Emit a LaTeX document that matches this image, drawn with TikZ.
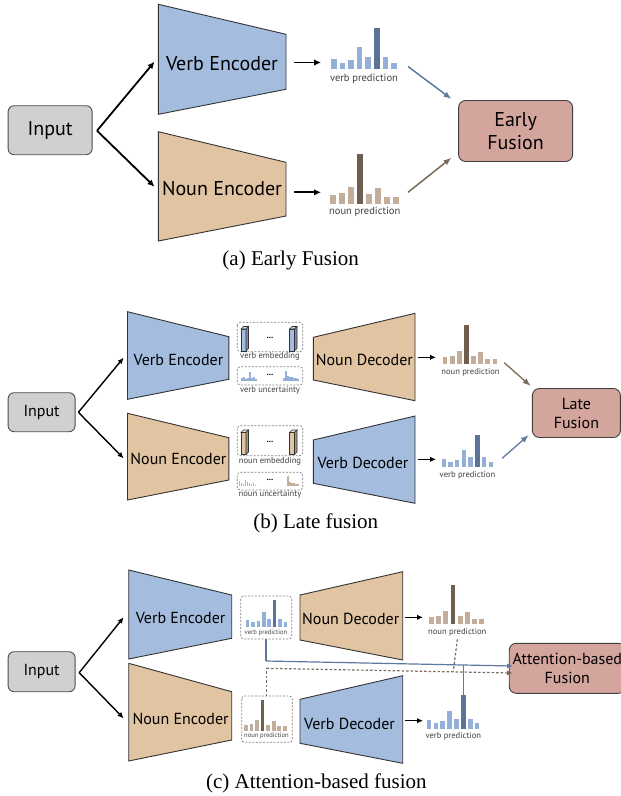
\documentclass[tikz,border=0pt]{standalone}
\usepackage{fontspec}
\setmainfont{Liberation Serif}
\newfontfamily\labelfont{PT Sans}
\usetikzlibrary{arrows.meta,positioning}

\definecolor{encblue}{HTML}{A4BDDF}
\definecolor{enctan}{HTML}{E1C4A1}
\definecolor{inputgray}{HTML}{D0D0D0}
\definecolor{fusionrose}{HTML}{D3A59C}
\definecolor{vbar}{HTML}{94B0D9}
\definecolor{vbardark}{HTML}{5C7398}
\definecolor{nbar}{HTML}{C2AE9A}
\definecolor{nbardark}{HTML}{6E5F4E}
\definecolor{varrow}{HTML}{5E78A0}
\definecolor{narrow}{HTML}{7A6A5A}

% bar heights / colours of the prediction histograms
\newcommand{\verbbars}{10.3/vbar,6.7/vbar,9.3/vbar,22.7/vbar,12.7/vbar,41.7/vbardark,12.7/vbar,6.7/vbar}
\newcommand{\nounbars}{9/nbar,11/nbar,17/nbar,49.7/nbardark,10/nbar,15.7/nbar,7/nbar,7/nbar}

\newcommand{\predbars}[4]{%
  \begin{scope}[shift={#1}, scale=#2]
    \foreach \h/\c [count=\i] in #3
      \fill[\c] ({(\i-1)*#4},0) rectangle ++({0.66*#4},-\h);
  \end{scope}}

\newcommand{\unchist}[3]{%
  \begin{scope}[shift={#1}]
    \foreach \h [count=\i] in {#3}
      \fill[#2] ({(\i-1)*2},0) rectangle ++(1.8,-\h);
  \end{scope}}

\newcommand{\cuboid}[2]{%
  \begin{scope}[shift={#1}]
    \draw[fill=#2, line width=0.6pt, draw=black!80] (0,0) rectangle (5,22);
    \draw[fill=#2!60!white, line width=0.6pt, draw=black!80] (0,0) -- (2.5,-2.5) -- (7.5,-2.5) -- (5,0) -- cycle;
    \draw[fill=#2!75!black, line width=0.6pt, draw=black!80] (5,0) -- (7.5,-2.5) -- (7.5,19.5) -- (5,22) -- cycle;
  \end{scope}}

\newcommand{\trap}[7]{%
  \draw[trapline, fill=#7] (#1,#2) -- (#4,#5) -- (#4,#6) -- (#1,#3) -- cycle;}

\begin{document}
\begin{tikzpicture}[x=1pt, y=-1pt,
    inbox/.style={draw=black!70, fill=inputgray, rounded corners=6pt, line width=0.9pt},
    fusebox/.style={draw=black!75, fill=fusionrose, rounded corners=7pt, line width=0.9pt, align=center},
    trapline/.style={draw=black!80, line width=0.9pt},
    dbox/.style={draw=black!50, dash pattern=on 2pt off 1.5pt, rounded corners=3pt, line width=0.7pt},
    bigtext/.style={font=\labelfont\fontsize{20}{23}\selectfont, align=center},
    midtext/.style={font=\labelfont\fontsize{16}{19}\selectfont, align=center},
    predbig/.style={font=\labelfont\fontsize{10.5}{12}\selectfont, text=black!75},
    predmid/.style={font=\labelfont\fontsize{8.6}{10}\selectfont, text=black!75},
    predsmall/.style={font=\labelfont\fontsize{6.6}{8}\selectfont, text=black!75},
    dots/.style={font=\labelfont\bfseries\fontsize{9}{10}\selectfont, inner sep=0pt},
    caption/.style={font=\fontsize{21}{24}\selectfont},
    arrow/.style={-{Latex[length=7pt,width=6.5pt]}, line width=1.8pt},
    arrowthin/.style={-{Latex[length=6pt,width=5.5pt]}, line width=1.4pt},
    varr/.style={-{Latex[length=8pt,width=6pt]}, line width=1.5pt, draw=varrow},
    narr/.style={-{Latex[length=8pt,width=6pt]}, line width=1.5pt, draw=narrow},
    vline/.style={line width=1.2pt, draw=varrow},
    nline/.style={line width=1.2pt, draw=narrow, dash pattern=on 2.5pt off 2pt}
  ]
  \useasboundingbox (0,0) rectangle (621,796);

  % (a) early fusion
  \node[inbox, minimum width=84pt, minimum height=49pt, bigtext] (ina) at (50.1,130.2) {Input};
  \trap{158.4}{4.3}{114.3}{286}{34.3}{89.3}{encblue}
  \trap{158.4}{131.7}{241}{286}{162.3}{216}{enctan}
  \node[bigtext] (venca) at (222,63.3) {Verb Encoder};
  \node[bigtext] (nenca) at (222,189) {Noun Encoder};
  \coordinate (splita) at (97,130.7);
  \coordinate (vencain) at (154.5,61.7);
  \coordinate (nencain) at (154.5,186.7);
  \draw[arrow] (splita) -- (vencain);
  \draw[arrow] (splita) -- (nencain);

  \predbars{(331,69.3)}{1}{\verbbars}{8.6}
  \predbars{(330,203.7)}{1}{\nounbars}{9}
  \node[predbig] (vpreda) at (364,79) {verb prediction};
  \node[predbig] (npreda) at (364.7,212.3) {noun prediction};
  \coordinate (vencaout) at (294,62.5);
  \coordinate (vbarsain) at (321,62.5);
  \coordinate (nencaout) at (294,192.3);
  \coordinate (nbarsain) at (321,192.3);
  \draw[arrow] (vencaout) -- (vbarsain);
  \draw[arrow] (nencaout) -- (nbarsain);

  \node[fusebox, minimum width=114pt, minimum height=61pt, bigtext] (fusea) at (515.6,131) {Early\\Fusion};
  \coordinate (vpredaout) at (408,66.5);
  \coordinate (npredaout) at (408,192.3);
  \draw[varr] (vpredaout) -- (451.5,99);
  \draw[narr] (npredaout) -- (451.5,157.7);
  \node[caption] (capa) at (290.7,260) {(a) Early Fusion};

  % (b) late fusion
  \node[inbox, minimum width=67pt, minimum height=39pt, midtext] (inb) at (41.6,412.2) {Input};
  \trap{127.5}{311.7}{399.3}{228.9}{336.7}{379.3}{encblue}
  \trap{127.5}{413.3}{500}{228.9}{437.7}{480}{enctan}
  \node[midtext] (vencb) at (178.4,360) {Verb Encoder};
  \node[midtext] (nencb) at (178.4,459) {Noun Encoder};
  \coordinate (splitb) at (78.4,412.3);
  \draw[arrowthin] (splitb) -- (123.6,357.7);
  \draw[arrowthin] (splitb) -- (123.6,458.3);

  \draw[dbox] (237.3,322.3) rectangle (302.7,351.7);
  \draw[dbox] (237.3,366.7) rectangle (302.7,385);
  \draw[dbox] (237.3,425.7) rectangle (302.7,455.7);
  \draw[dbox] (237.3,472.3) rectangle (302.7,490);
  \cuboid{(241,329)}{encblue}
  \cuboid{(289.5,329)}{encblue}
  \cuboid{(241,432.5)}{enctan}
  \cuboid{(289.5,432.5)}{enctan}
  \node[dots] (vembdots) at (270,338) {...};
  \node[dots] (vuncdots) at (270,374.5) {...};
  \node[dots] (nembdots) at (270,442) {...};
  \node[dots] (nuncdots) at (270,479.5) {...};
  \unchist{(241,381)}{vbar}{3,4.5,2,3.5,9.5,3,4,2.5}
  \unchist{(283.3,381)}{vbar}{3,10,5,4.5,4,3,3,2.5}
  \unchist{(238.5,486.3)}{nbar}{5,3,2,6,4,3,2,3,1.5}
  \unchist{(287,486.3)}{nbar}{10,4,3,3,2,2}
  \node[predmid] (vembb) at (270,356.7) {verb embedding};
  \node[predmid] (vuncb) at (270,390.7) {verb uncertainty};
  \node[predmid] (nembb) at (270,461) {noun embedding};
  \node[predmid] (nuncb) at (270,494.8) {noun uncertainty};

  \trap{313.3}{337.3}{380}{415}{313.3}{400.7}{enctan}
  \trap{313.3}{440}{483.3}{415}{416}{503.3}{encblue}
  \node[midtext] (ndecb) at (364.3,360) {Noun Decoder};
  \node[midtext] (vdecb) at (363,463.3) {Verb Decoder};
  \coordinate (ndecbout) at (417.8,357.3);
  \coordinate (nbarsbin) at (436,357.3);
  \coordinate (vdecbout) at (417.8,459.3);
  \coordinate (vbarsbin) at (436,459.3);
  \draw[arrowthin] (ndecbout) -- (nbarsbin);
  \draw[arrowthin] (vdecbout) -- (vbarsbin);

  \predbars{(442.8,364.3)}{0.79}{\nounbars}{9}
  \predbars{(441.6,467.3)}{0.78}{\verbbars}{8.6}
  \node[predmid] (npredb) at (470.5,372.7) {noun prediction};
  \node[predmid] (vpredb) at (467.5,475.3) {verb prediction};

  \node[fusebox, minimum width=88pt, minimum height=49pt, midtext] (fuseb) at (576.4,413) {Late\\Fusion};
  \draw[narr, line width=1.3pt] (504.2,362.7) -- (530.7,386);
  \draw[varr, line width=1.3pt] (502.2,458.3) -- (528.7,435);
  \node[caption] (capb) at (315.8,523.3) {(b) Late fusion};

  % (c) attention-based fusion
  \node[inbox, minimum width=67pt, minimum height=40pt, midtext] (inc) at (41.6,671.7) {Input};
  \trap{128.7}{570}{659}{231.7}{595}{638.3}{encblue}
  \trap{128.7}{663.3}{761}{231.7}{691.7}{740}{enctan}
  \node[midtext] (vencc) at (180.6,618.3) {Verb Encoder};
  \node[midtext] (nencc) at (180.6,719.3) {Noun Encoder};
  \coordinate (splitc) at (79.2,672.7);
  \draw[arrowthin] (splitc) -- (123.6,617.3);
  \draw[arrowthin] (splitc) -- (123.6,718.3);

  \draw[dbox] (240.7,596) rectangle (291.7,639);
  \draw[dbox] (241.7,696) rectangle (292.3,742.3);
  \predbars{(245.7,626.7)}{0.63}{\verbbars}{8.6}
  \predbars{(244,730.7)}{0.62}{\nounbars}{9}
  \node[predsmall] (vpredcbox) at (266,632.7) {verb prediction};
  \node[predsmall] (npredcbox) at (266.5,736) {noun prediction};

  \trap{300}{595}{640}{402.7}{571.7}{660}{enctan}
  \trap{300}{699.3}{743.3}{402.7}{675.7}{763.3}{encblue}
  \node[midtext] (ndecc) at (350.7,619.3) {Noun Decoder};
  \node[midtext] (vdecc) at (349.5,724) {Verb Decoder};
  \coordinate (ndeccout) at (404.5,617.3);
  \coordinate (nbarscin) at (423,617.3);
  \coordinate (vdeccout) at (404.5,720.7);
  \coordinate (vbarscin) at (423,720.7);
  \draw[arrowthin] (ndeccout) -- (nbarscin);
  \draw[arrowthin] (vdeccout) -- (vbarscin);

  \predbars{(429,624.3)}{0.8}{\nounbars}{9}
  \predbars{(426.7,728.7)}{0.8}{\verbbars}{8.6}
  \node[predmid] (npredc) at (457.3,632) {noun prediction};
  \node[predmid] (vpredc) at (453.3,736) {verb prediction};

  \node[fusebox, minimum width=106pt, minimum height=50pt, midtext] (fusec) at (567.3,668.3) {Attention-based\\Fusion};
  \coordinate (vboxcout) at (266,639);
  \coordinate (nboxcout) at (266.7,696);
  \coordinate (vturnc) at (266,661);
  \coordinate (vattnc) at (513,666);
  \coordinate (vjoinc) at (463.5,665);
  \coordinate (vpeakc) at (463.5,694.5);
  \coordinate (nturnc) at (266.7,668.3);
  \coordinate (nattnc) at (513,673);
  \coordinate (njoinc) at (453.3,671.7);
  \draw[vline] (vboxcout) -- (vturnc);
  \draw[vline, -{Latex[length=6pt,width=5pt]}] (vturnc) -- (vattnc);
  \draw[vline] (vpeakc) -- (vjoinc);
  \draw[nline] (nboxcout) -- (nturnc);
  \draw[nline, -{Latex[length=6pt,width=5pt]}] (nturnc) -- (nattnc);
  \draw[nline] (npredc.south) -- (njoinc);
  \node[caption] (capc) at (316.4,783.3) {(c) Attention-based fusion};
\end{tikzpicture}
\end{document}
